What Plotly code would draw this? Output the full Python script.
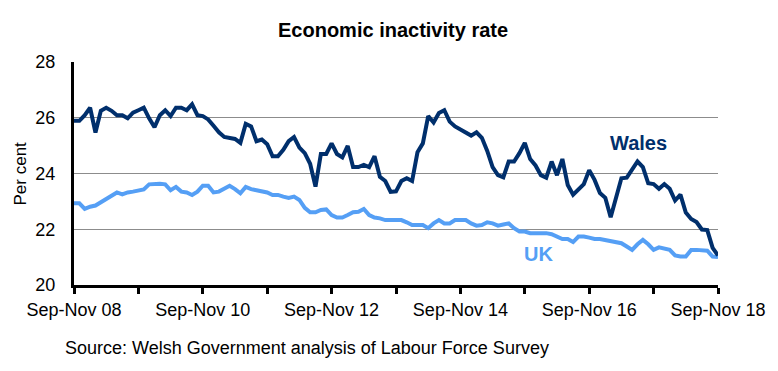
import plotly.graph_objects as go

# ---- data (per cent), rolling quarters Sep-Nov 2008 .. Sep-Nov 2018 ----
wales = [25.89, 25.89, 26.09, 26.36, 25.47, 26.25, 26.36, 26.25, 26.09, 26.09,
         25.98, 26.18, 26.27, 26.36, 25.98, 25.66, 26.09, 26.27, 26.06, 26.36,
         26.36, 26.27, 26.48, 26.09, 26.06, 25.94, 25.71, 25.48, 25.31, 25.28,
         25.24, 25.10, 25.78, 25.69, 25.16, 25.22, 25.05, 24.62, 24.62, 24.85,
         25.16, 25.31, 24.93, 24.73, 24.35, 23.53, 24.70, 24.70, 25.08, 24.70,
         24.58, 24.99, 24.23, 24.23, 24.31, 24.23, 24.62, 23.88, 23.73, 23.34,
         23.36, 23.73, 23.83, 23.73, 24.76, 25.08, 26.06, 25.83, 26.17, 26.27,
         25.86, 25.69, 25.57, 25.48, 25.36, 25.48, 25.28, 24.81, 24.23, 23.94,
         23.86, 24.43, 24.43, 24.73, 25.10, 24.52, 24.29, 23.94, 23.85, 24.43,
         23.94, 24.52, 23.59, 23.24, 23.45, 23.62, 24.12, 23.77, 23.30, 23.13,
         22.43, 23.19, 23.83, 23.85, 24.15, 24.43, 24.23, 23.65, 23.62, 23.45,
         23.62, 23.45, 23.03, 23.24, 22.60, 22.37, 22.26, 21.99, 21.97, 21.33,
         21.06]

uk = [22.93, 22.93, 22.73, 22.81, 22.85, 22.96, 23.08, 23.17, 23.32, 23.25,
      23.32, 23.35, 23.40, 23.43, 23.61, 23.63, 23.63, 23.61, 23.40, 23.52,
      23.35, 23.32, 23.23, 23.35, 23.56, 23.56, 23.32, 23.35, 23.46, 23.56,
      23.44, 23.29, 23.52, 23.44, 23.40, 23.35, 23.32, 23.23, 23.23, 23.17,
      23.12, 23.17, 23.05, 22.77, 22.61, 22.61, 22.69, 22.71, 22.51, 22.42,
      22.42, 22.51, 22.61, 22.63, 22.73, 22.51, 22.42, 22.39, 22.33, 22.33,
      22.33, 22.33, 22.25, 22.15, 22.15, 22.15, 22.04, 22.21, 22.33, 22.21,
      22.21, 22.33, 22.33, 22.33, 22.21, 22.13, 22.15, 22.25, 22.21, 22.13,
      22.17, 22.21, 22.04, 21.92, 21.92, 21.86, 21.86, 21.86, 21.86, 21.82,
      21.74, 21.65, 21.65, 21.54, 21.74, 21.74, 21.70, 21.65, 21.65, 21.62,
      21.56, 21.56, 21.50, 21.38, 21.26, 21.46, 21.62, 21.46, 21.26, 21.35,
      21.30, 21.26, 21.06, 21.02, 21.02, 21.26, 21.26, 21.26, 21.23, 21.02,
      21.00]

month_names = ["Jan", "Feb", "Mar", "Apr", "May", "Jun",
               "Jul", "Aug", "Sep", "Oct", "Nov", "Dec"]
tick_labels = ["Sep-Nov 08", "Sep-Nov 10", "Sep-Nov 12",
               "Sep-Nov 14", "Sep-Nov 16", "Sep-Nov 18"]
y_ticks = [20, 22, 24, 26, 28]

# rolling-quarter period labels (for hover / tick lookup)
periods = []
for k in range(len(wales)):
    m0 = (8 + k) % 12
    m2 = (m0 + 2) % 12
    year = 2008 + (8 + k + 2) // 12
    periods.append(f"{month_names[m0]}-{month_names[m2]} {year % 100:02d}")
x = list(range(len(periods)))
all_ticks = [i for i, p in enumerate(periods) if p.startswith("Sep-Nov")]
all_text = [p if p in tick_labels else "" for p in periods if p.startswith("Sep-Nov")]

WALES_C = "#002F6C"
UK_C = "#559FF5"
FONT = "Liberation Sans, Arial, sans-serif"

fig = go.Figure()
fig.add_trace(go.Scatter(x=x, y=uk, mode="lines", name="UK",
                         customdata=periods,
                         hovertemplate="%{customdata}: %{y}<extra>UK</extra>",
                         line=dict(color=UK_C, width=4)))
fig.add_trace(go.Scatter(x=x, y=wales, mode="lines", name="Wales",
                         customdata=periods,
                         hovertemplate="%{customdata}: %{y}<extra>Wales</extra>",
                         line=dict(color=WALES_C, width=4)))

fig.update_layout(
    width=778, height=371,
    margin=dict(l=66, r=68, t=54, b=94),
    paper_bgcolor="white", plot_bgcolor="white",
    showlegend=False,
    font=dict(family=FONT, size=16, color="black"),
    xaxis=dict(range=[0, len(x) - 1], tickvals=all_ticks, ticktext=all_text,
               showgrid=False, zeroline=False,
               showline=True, linecolor="black", linewidth=3,
               ticks="outside", ticklen=6, tickwidth=3, tickcolor="black",
               tickfont=dict(size=18)),
    yaxis=dict(range=[20, 28], tickvals=y_ticks,
               showgrid=True, gridcolor="#8c8c8c", gridwidth=1,
               zeroline=False, showline=True, linecolor="black", linewidth=3,
               ticks="", ticklabelstandoff=12, tickfont=dict(size=18)),
)

fig.add_annotation(text="<b>Economic inactivity rate</b>", xref="paper", yref="paper",
                   x=0.5, y=1, xshift=-3, yshift=32, xanchor="center", yanchor="middle",
                   showarrow=False, font=dict(size=20, color="black"))
fig.add_annotation(text="Per cent", xref="paper", yref="paper", x=0, y=0.5,
                   xshift=-54, textangle=-90, xanchor="center", yanchor="middle",
                   showarrow=False, font=dict(size=17, color="black"))
fig.add_annotation(text="Source: Welsh Government analysis of Labour Force Survey",
                   xref="paper", yref="paper", x=0, y=0, xshift=-11, yshift=-63,
                   xanchor="left", yanchor="middle", showarrow=False,
                   font=dict(size=18, color="black"))
fig.add_annotation(text="<b>Wales</b>", x=105.2, y=25.1, showarrow=False,
                   xanchor="center", yanchor="middle",
                   font=dict(size=20, color=WALES_C))
fig.add_annotation(text="<b>UK</b>", x=86.6, y=21.1, showarrow=False,
                   xanchor="center", yanchor="middle",
                   font=dict(size=20, color=UK_C))

fig.write_html("out.html")
